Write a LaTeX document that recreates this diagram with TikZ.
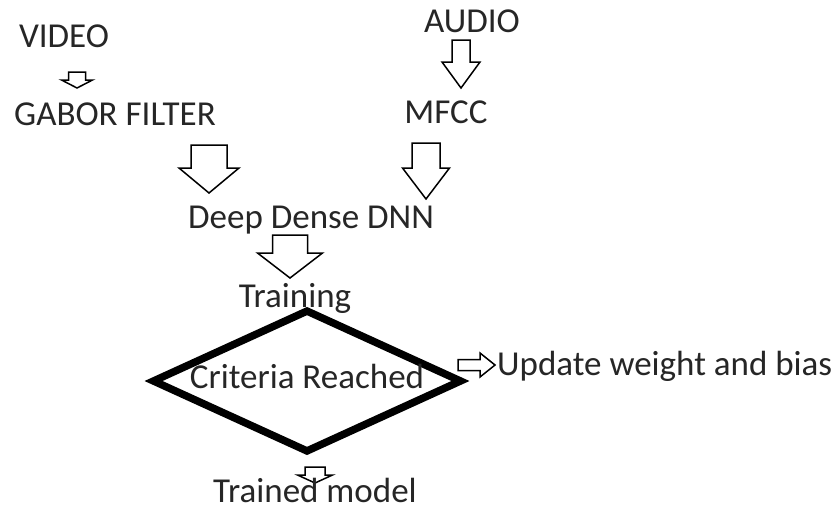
\documentclass[tikz,border=0pt]{standalone}
\usepackage{fontspec}
\setmainfont{Carlito}
\usepackage{tikz}
\usetikzlibrary{shapes.geometric,positioning}

\tikzset{
  flowtext/.style={text=black!85,inner sep=0pt,font=\fontsize{35}{41}\selectfont},
  arrowbox/.style={draw=black,line width=1.5pt,line join=miter},
  decision/.style={diamond,draw=black,line width=7.5pt,minimum width=310pt,minimum height=143pt,inner sep=0pt}
}

% hollow block arrows
% down: centre x, top y, tip y, half head, half shaft, head start y
\newcommand{\dnarrow}[6]{%
  \draw[arrowbox] (#1-#5,#2) -- (#1+#5,#2) -- (#1+#5,#6) -- (#1+#4,#6) -- (#1,#3)
    -- (#1-#4,#6) -- (#1-#5,#6) -- cycle;}
% right: centre y, left x, tip x, half head, half shaft, head start x
\newcommand{\rtarrow}[6]{%
  \draw[arrowbox] (#2,#1-#5) -- (#6,#1-#5) -- (#6,#1-#4) -- (#3,#1) -- (#6,#1+#4)
    -- (#6,#1+#5) -- (#2,#1+#5) -- cycle;}

\begin{document}
\begin{tikzpicture}[x=1pt, y=-1pt]
   \fill[white] (0,0) rectangle (835,509);
   \useasboundingbox (0,0) rectangle (835,509);

   % decision
   \node[decision] (crit) at (307,381) {};

   % arrows
   \dnarrow{77}{72}{88}{15.5}{8.5}{80}
   \dnarrow{209}{145}{193}{30}{18}{168}
   \dnarrow{461}{40}{88}{19}{9}{62}
   \dnarrow{426}{143}{199}{23.5}{14}{168}
   \dnarrow{290}{235}{278}{32.5}{17.5}{253}
   \rtarrow{365}{458}{495}{12}{5.5}{480}
   \dnarrow{315}{467}{483}{17.5}{10}{475}

   % texts
   \begin{scope}[every node/.style={flowtext,anchor=base}]
    \node (video) at (64,47) {VIDEO};
    \node (gabor) at (115,125) {GABOR FILTER};
    \node (audio) at (472,32) {AUDIO};
    \node (mfcc) at (446,123) {MFCC};
    \node (dnn) at (311,228) {Deep Dense DNN};
    \node (train) at (295,307) {Training};
    \node (critxt) at (307,388) {Criteria Reached};
    \node[anchor=base west] (update) at (497,375) {Update weight and bias};
    \node (model) at (315,502) {Trained model};
   \end{scope}
\end{tikzpicture}
\end{document}
